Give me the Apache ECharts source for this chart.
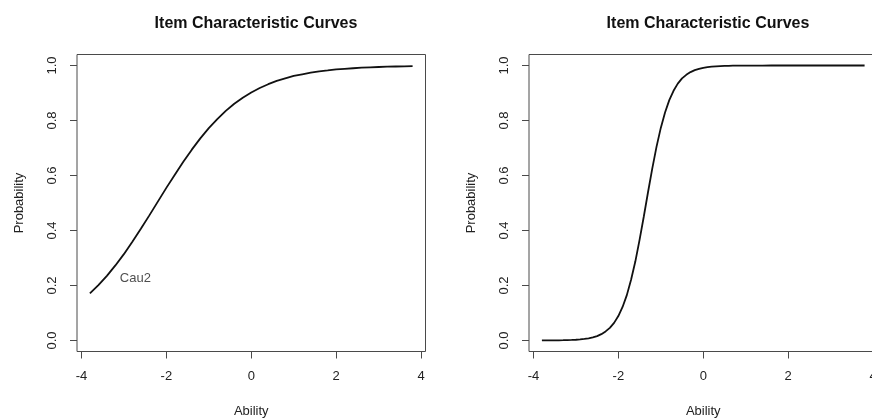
<!DOCTYPE html>
<html>
<head>
<meta charset="utf-8">
<script src="https://cdn.jsdelivr.net/npm/echarts@6/dist/echarts.min.js"></script>
<style>
html,body{margin:0;padding:0;background:#fff;}
#chart{width:872px;height:418px;}
</style>
</head>
<body>
<div id="chart"></div>
<script>
// ---- data ----
const titleText = "Item Characteristic Curves";
const xAxisName = "Ability";
const yAxisName = "Probability";
const xTicks = [-4, -2, 0, 2, 4];
const yTicks = [0, 0.2, 0.4, 0.6, 0.8, 1.0];

// Left panel (Cau2), ability step 0.2
const abilityLeft = [-3.8,-3.6,-3.4,-3.2,-3.0,-2.8,-2.6,-2.4,-2.2,-2.0,-1.8,-1.6,-1.4,-1.2,-1.0,-0.8,-0.6,-0.4,-0.2,0.0,
  0.2,0.4,0.6,0.8,1.0,1.2,1.4,1.6,1.8,2.0,2.2,2.4,2.6,2.8,3.0,3.2,3.4,3.6,3.8];
const probLeft = [0.171,0.201,0.235,0.273,0.314,0.359,0.406,0.455,0.505,0.555,0.603,0.650,0.694,0.735,0.772,0.805,0.835,0.861,0.883,0.902,
  0.918,0.932,0.944,0.953,0.962,0.968,0.974,0.979,0.982,0.986,0.988,0.990,0.992,0.9935,0.9946,0.9956,0.9964,0.997,0.9976];
const curveLabel = "Cau2";
const curveLabelAt = [-2.73, 0.227];

// Right panel, ability step 0.1 in the steep part
const abilityRight = [-3.8,-3.7,-3.6,-3.5,-3.4,-3.3,-3.2,-3.1,-3.0,-2.9,-2.8,-2.7,-2.6,-2.5,-2.4,-2.3,-2.2,-2.1,-2.0,-1.9,
  -1.8,-1.7,-1.6,-1.5,-1.4,-1.3,-1.2,-1.1,-1.0,-0.9,-0.8,-0.7,-0.6,-0.5,-0.4,-0.3,-0.2,-0.1,0.0,0.1,
  0.2,0.3,0.4,0.5,0.6,0.7,0.8,0.9,1.0,1.2,1.4,1.6,1.8,2.0,2.4,2.8,3.2,3.6,3.8];
const probRight = [0.0002,0.0002,0.0003,0.0005,0.0007,0.001,0.0014,0.002,0.0028,0.004,0.0057,0.008,0.0114,0.016,0.023,0.033,0.046,0.064,0.089,0.122,
  0.165,0.221,0.287,0.366,0.451,0.540,0.626,0.705,0.773,0.829,0.874,0.908,0.934,0.953,0.966,0.976,0.983,0.988,0.9916,0.994,
  0.9958,0.997,0.998,0.9986,0.999,0.9993,0.9995,0.9996,0.9997,0.9998,0.9999,1.0,1.0,1.0,1.0,1.0,1.0,1.0,1.0];

// ---- chart ----
const FONT = "Liberation Sans, Arial, Helvetica, sans-serif";
const AX = "#4a4a4a";
const xMin = -4.104, xMax = 4.104, yMin = -0.04, yMax = 1.04;

function zip(xs, ys){ return xs.map((x,i)=>[x, ys[i]]); }

function xAxisDef(gi){
  return {
    type:'value', gridIndex:gi, min:xMin, max:xMax, position:'bottom',
    name:xAxisName, nameLocation:'middle', nameGap:53,
    nameTextStyle:{fontFamily:FONT, fontSize:13, color:'#222'},
    axisLine:{show:false, onZero:false},
    axisTick:{show:true, inside:false, length:7, lineStyle:{color:AX, width:1}, customValues:xTicks},
    axisLabel:{show:true, margin:18, fontFamily:FONT, fontSize:13, color:'#222', customValues:xTicks,
      hideOverlap:false, showMinLabel:true, showMaxLabel:true, formatter:(v)=>String(v)},
    splitLine:{show:false}
  };
}
function yAxisDef(gi){
  return {
    type:'value', gridIndex:gi, min:yMin, max:yMax, position:'left',
    name:yAxisName, nameLocation:'middle', nameGap:51, nameRotate:90,
    nameTextStyle:{fontFamily:FONT, fontSize:13, color:'#222'},
    axisLine:{show:false, onZero:false},
    axisTick:{show:true, inside:false, length:7, lineStyle:{color:AX, width:1}, customValues:yTicks},
    axisLabel:{show:true, margin:18, rotate:90, fontFamily:FONT, fontSize:13, color:'#222', customValues:yTicks,
      hideOverlap:false, formatter:(v)=>v.toFixed(1)},
    splitLine:{show:false}
  };
}

const chart = echarts.init(document.getElementById('chart'), null, {renderer:'canvas'});
chart.setOption({
  animation:false,
  backgroundColor:'#fff',
  title:[
    {text:titleText, left:251, top:11, textAlign:'center', textStyle:{fontFamily:FONT, fontSize:16, fontWeight:'bold', color:'#111'}},
    {text:titleText, left:703, top:11, textAlign:'center', textStyle:{fontFamily:FONT, fontSize:16, fontWeight:'bold', color:'#111'}}
  ],
  grid:[
    {left:77, top:54.5, width:348.5, height:297, show:true, borderColor:AX, borderWidth:1, backgroundColor:'transparent',
     containLabel:false, outerBoundsMode:'none'},
    {left:529, top:54.5, width:348.5, height:297, show:true, borderColor:AX, borderWidth:1, backgroundColor:'transparent',
     containLabel:false, outerBoundsMode:'none'}
  ],
  xAxis:[xAxisDef(0), xAxisDef(1)],
  yAxis:[yAxisDef(0), yAxisDef(1)],
  series:[
    {type:'line', xAxisIndex:0, yAxisIndex:0, data:zip(abilityLeft, probLeft), showSymbol:false, symbol:'none',
     smooth:false, lineStyle:{color:'#111', width:1.8}},
    {type:'line', xAxisIndex:1, yAxisIndex:1, data:zip(abilityRight, probRight), showSymbol:false, symbol:'none',
     smooth:false, lineStyle:{color:'#111', width:1.8}},
    {type:'scatter', xAxisIndex:0, yAxisIndex:0, data:[curveLabelAt], symbolSize:1,
     itemStyle:{color:'rgba(0,0,0,0)'},
     label:{show:true, position:'inside', formatter:curveLabel, fontFamily:FONT, fontSize:13, color:'#222'}}
  ]
});
</script>
</body>
</html>
